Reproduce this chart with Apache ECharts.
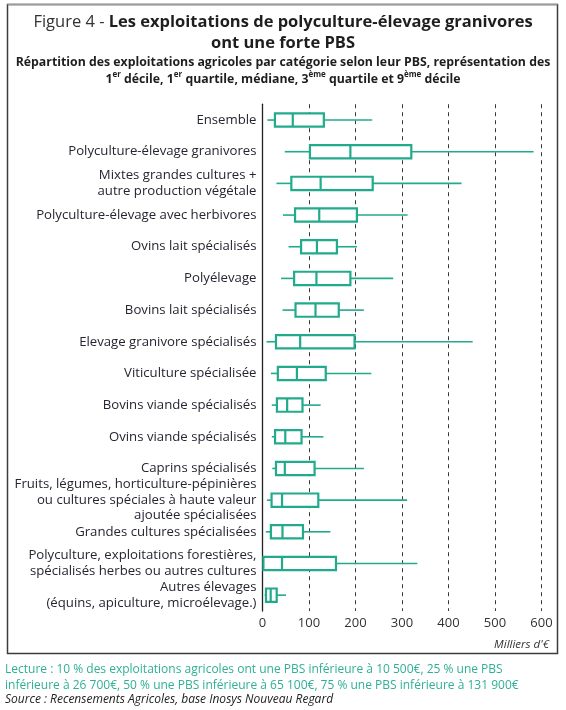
<!DOCTYPE html>
<html>
<head>
<meta charset="utf-8">
<script src="https://cdn.jsdelivr.net/npm/echarts@6/dist/echarts.min.js"></script>
<style>
  html, body { margin: 0; padding: 0; background: #fff; }
  #chart { width: 566px; height: 710px; }
</style>
</head>
<body>
<div id="chart"></div>
<script>
var categories = [
  "Ensemble",
  "Polyculture-élevage granivores",
  "Mixtes grandes cultures +\nautre production végétale",
  "Polyculture-élevage avec herbivores",
  "Ovins lait spécialisés",
  "Polyélevage",
  "Bovins lait spécialisés",
  "Elevage granivore spécialisés",
  "Viticulture spécialisée",
  "Bovins viande spécialisés",
  "Ovins viande spécialisés",
  "Caprins spécialisés",
  "Fruits, légumes, horticulture-pépinières\nou cultures spéciales à haute valeur\najoutée spécialisées",
  "Grandes cultures spécialisées",
  "Polyculture, exploitations forestières,\nspécialisés herbes ou autres cultures",
  "Autres élevages\n(équins, apiculture, microélevage.)"
];
var p10    = [10.5, 48, 30, 44, 56, 40, 43, 8.6, 18, 20, 20, 21, 9.4, 7, 0, 4.7];
var q1     = [26.7, 102, 62, 70, 83, 68, 71, 29, 33, 31, 27, 29, 19.5, 18, 2, 7.5];
var median = [65.1, 189, 125, 122, 117, 116, 114, 81, 74, 53, 49, 48, 42, 43, 42, 17.6];
var q3     = [131.9, 320, 237, 203, 160, 189, 164, 198, 136, 86, 84, 112, 120, 87, 158, 30.5];
var p90    = [236, 583, 428, 312, 203, 281, 218, 452, 234, 125, 131, 218, 311, 146, 333, 50.5];
var xTicks = [0, 100, 200, 300, 400, 500, 600];

var FONT = "'Open Sans', sans-serif";
var DARK = "#262633";
var TEAL = "#22aa8c";

var seriesData = categories.map(function (c, i) {
  return [i, p10[i], q1[i], median[i], q3[i], p90[i]];
});

function renderItem(params, api) {
  var idx = api.value(0);
  var pLow = api.coord([api.value(1), idx]);
  var pQ1 = api.coord([api.value(2), idx]);
  var pMed = api.coord([api.value(3), idx]);
  var pQ3 = api.coord([api.value(4), idx]);
  var pHigh = api.coord([api.value(5), idx]);
  var band = api.size([0, 1])[1];
  var h = band * 0.42;
  var y = pMed[1];
  var lineStyle = { stroke: TEAL, lineWidth: 1.6, fill: null };
  var boxStyle = { stroke: TEAL, lineWidth: 2.2, fill: '#fff' };
  return {
    type: 'group',
    children: [
      { type: 'line', shape: { x1: pLow[0], y1: y, x2: pQ1[0], y2: y }, style: lineStyle },
      { type: 'line', shape: { x1: pQ3[0], y1: y, x2: pHigh[0], y2: y }, style: lineStyle },
      { type: 'rect', shape: { x: pQ1[0], y: y - h / 2, width: pQ3[0] - pQ1[0], height: h }, style: boxStyle },
      { type: 'line', shape: { x1: pMed[0], y1: y - h / 2, x2: pMed[0], y2: y + h / 2 }, style: { stroke: TEAL, lineWidth: 2.2 } }
    ]
  };
}

var chart = echarts.init(document.getElementById('chart'), null, { renderer: 'canvas' });
chart.setOption({
  animation: false,
  backgroundColor: '#fff',
  grid: { left: 262.5, right: 24.5, top: 104.2, bottom: 99, containLabel: false },
  xAxis: {
    type: 'value', min: xTicks[0], max: xTicks[xTicks.length - 1], interval: 100,
    axisLine: { show: false }, axisTick: { show: false },
    axisLabel: { margin: 6, fontFamily: FONT, fontSize: 13, color: '#333',
      formatter: function (v) { return xTicks.indexOf(v) >= 0 ? String(v) : ''; } },
    splitLine: { show: true, lineStyle: { color: '#3a3a3a', type: [4, 4], width: 1 } }
  },
  yAxis: {
    type: 'category', data: categories, inverse: true,
    axisLine: { show: true, lineStyle: { color: '#222', width: 1.3 } },
    axisTick: { show: false },
    splitLine: { show: false },
    axisLabel: { margin: 6, fontFamily: FONT, fontSize: 13.2, color: DARK, lineHeight: 15.5, align: 'right' }
  },
  series: [{
    type: 'custom', renderItem: renderItem, data: seriesData,
    encode: { x: [1, 2, 3, 4, 5], y: 0 }, z: 5
  }],
  graphic: [
    { type: 'rect', shape: { x: 7.5, y: 4.5, width: 550, height: 649 }, style: { fill: null, stroke: '#3c3c3c', lineWidth: 1.5 }, z: 100 },
    { type: 'line', shape: { x1: 7.5, y1: 4.5, x2: 557.5, y2: 4.5 }, style: { stroke: '#9a9a9a', lineWidth: 1.5 }, z: 101 },
    { type: 'text', x: 283, y: 12, z: 100, style: {
      text: '{r|Figure 4 - }{b|Les exploitations de polyculture-élevage granivores}\n{b|ont une forte PBS}',
      align: 'center', verticalAlign: 'top',
      rich: {
        r: { fontFamily: FONT, fontSize: 16.5, fontWeight: 'normal', fill: '#333', lineHeight: 21 },
        b: { fontFamily: FONT, fontSize: 16.5, fontWeight: 'bold', fill: '#1e1e1e', lineHeight: 21 }
      } } },
    { type: 'text', x: 283, y: 54, z: 100, style: {
      text: '{b|Répartition des exploitations agricoles par catégorie selon leur PBS, représentation des}\n{b|1}{s|er}{b| décile, 1}{s|er}{b| quartile, médiane, 3}{s|ème}{b| quartile et 9}{s|ème}{b| décile}',
      align: 'center', verticalAlign: 'top',
      rich: {
        b: { fontFamily: FONT, fontSize: 12.3, fontWeight: 'bold', fill: '#1e1e1e', lineHeight: 17 },
        s: { fontFamily: FONT, fontSize: 8, fontWeight: 'bold', fill: '#1e1e1e', lineHeight: 17, verticalAlign: 'top' }
      } } },
    { type: 'text', x: 549, y: 645, z: 100, style: {
      text: "Milliers d'€", align: 'right', verticalAlign: 'middle',
      fontFamily: FONT, fontSize: 11.5, fontStyle: 'italic', fill: '#333' } },
    { type: 'text', x: 5, y: 661, z: 100, style: {
      text: 'Lecture : 10 % des exploitations agricoles ont une PBS inférieure à 10 500€, 25 % une PBS\ninférieure à 26 700€, 50 % une PBS inférieure à 65 100€, 75 % une PBS inférieure à 131 900€',
      align: 'left', verticalAlign: 'top', lineHeight: 16.5,
      fontFamily: FONT, fontSize: 12, fill: '#2fb096' } },
    { type: 'text', x: 5, y: 694, z: 100, style: {
      text: 'Source : Recensements Agricoles, base Inosys Nouveau Regard',
      align: 'left', verticalAlign: 'top',
      fontFamily: FONT, fontSize: 12, fontStyle: 'italic', fill: '#222' } }
  ]
});
</script>
</body>
</html>
